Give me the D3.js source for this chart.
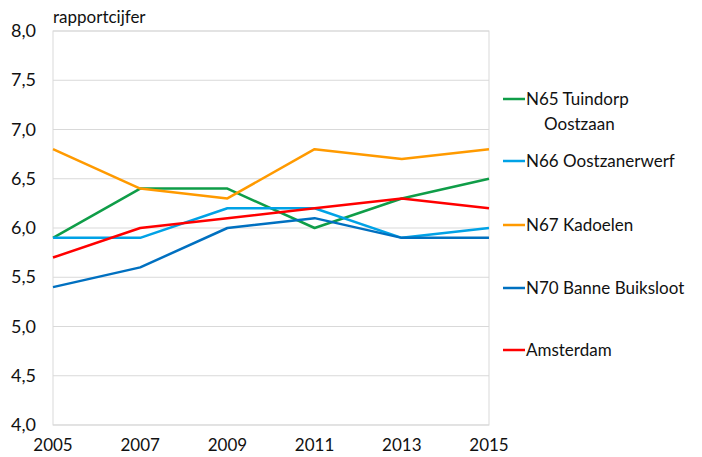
<!DOCTYPE html>
<html>
<head>
<meta charset="utf-8">
<script src="https://cdn.jsdelivr.net/npm/d3@7"></script>
<style>
  body { margin: 0; background: #fff; }
  text { font-family: Lato, "Open Sans", sans-serif; fill: #111; }
</style>
</head>
<body>
<svg id="svg" width="702" height="457"></svg>
<script>
const years = [2005, 2007, 2009, 2011, 2013, 2015];
const yTicks = [4.0, 4.5, 5.0, 5.5, 6.0, 6.5, 7.0, 7.5, 8.0];

const n65 = [5.9, 6.4, 6.4, 6.0, 6.3, 6.5];
const n66 = [5.9, 5.9, 6.2, 6.2, 5.9, 6.0];
const n67 = [6.8, 6.4, 6.3, 6.8, 6.7, 6.8];
const n70 = [5.4, 5.6, 6.0, 6.1, 5.9, 5.9];
const amsterdam = [5.7, 6.0, 6.1, 6.2, 6.3, 6.2];

const series = [
  { name: ["N65 Tuindorp", "Oostzaan"], values: n65, color: "#0f9d48" },
  { name: ["N66 Oostzanerwerf"], values: n66, color: "#00a2e6" },
  { name: ["N67 Kadoelen"], values: n67, color: "#ff9a00" },
  { name: ["N70 Banne Buiksloot"], values: n70, color: "#0070c0" },
  { name: ["Amsterdam"], values: amsterdam, color: "#ff0000" }
];

const svg = d3.select("#svg");
const plotL = 53, plotR = 489, plotT = 31, plotB = 425;

const x = d3.scaleLinear().domain([2005, 2015]).range([plotL, plotR]);
const y = d3.scaleLinear().domain([4, 8]).range([plotB, plotT]);

// gridlines
svg.append("g").selectAll("line").data(yTicks).enter().append("line")
  .attr("x1", plotL).attr("x2", plotR)
  .attr("y1", d => y(d)).attr("y2", d => y(d))
  .attr("stroke", "#d9d9d9").attr("stroke-width", 1);

// plot border
svg.append("rect")
  .attr("x", plotL).attr("y", plotT)
  .attr("width", plotR - plotL).attr("height", plotB - plotT)
  .attr("fill", "none").attr("stroke", "#d9d9d9");

// y axis labels
const fmt = d => d.toFixed(1).replace(".", ",");
svg.append("g").selectAll("text").data(yTicks).enter().append("text")
  .attr("x", 36).attr("y", d => y(d) + 6)
  .attr("text-anchor", "end").attr("font-size", 18)
  .text(fmt);

// x axis labels
svg.append("g").selectAll("text").data(years).enter().append("text")
  .attr("x", d => x(d)).attr("y", 451)
  .attr("text-anchor", "middle").attr("font-size", 17)
  .text(d => d);

svg.append("text").attr("x", 53).attr("y", 23)
  .attr("font-size", 17).text("rapportcijfer");

const line = d3.line().x((d, i) => x(years[i])).y(d => y(d));

svg.append("g").selectAll("path").data(series).enter().append("path")
  .attr("d", d => line(d.values))
  .attr("fill", "none")
  .attr("stroke", d => d.color)
  .attr("stroke-width", 2.5)
  .attr("stroke-linejoin", "round");

// legend
const legendY = [99, 161, 225, 288, 350];
const lg = svg.append("g").selectAll("g").data(series).enter().append("g")
  .attr("transform", (d, i) => `translate(503,${legendY[i]})`);
lg.append("line").attr("x1", 0).attr("x2", 22).attr("y1", 0).attr("y2", 0)
  .attr("stroke", d => d.color).attr("stroke-width", 2.5);
lg.each(function(d) {
  const g = d3.select(this);
  d.name.forEach((t, j) => {
    g.append("text")
      .attr("x", j === 0 ? 23 : 41)
      .attr("y", 6 + j * 25)
      .attr("font-size", 17)
      .text(t);
  });
});
</script>
</body>
</html>
